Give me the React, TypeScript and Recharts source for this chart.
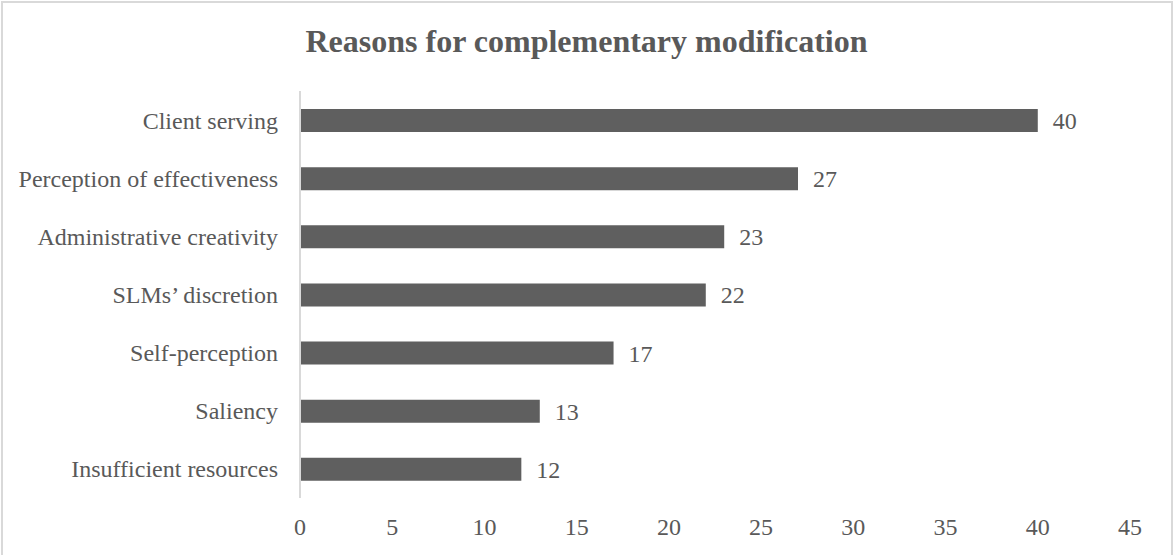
import { Bar, BarChart, LabelList, XAxis, YAxis } from "recharts";

const categories = [
  "Client serving",
  "Perception of effectiveness",
  "Administrative creativity",
  "SLMs’ discretion ",
  "Self-perception",
  "Saliency",
  "Insufficient resources",
];
const counts = [40, 27, 23, 22, 17, 13, 12];
const xTicks = [0, 5, 10, 15, 20, 25, 30, 35, 40, 45];

const data = categories.map((name, i) => ({ name, value: counts[i] }));

const FONT = '"Liberation Serif", "Times New Roman", serif';
const TEXT = "#595959";

export default function App() {
  return (
    <div
      style={{
        position: "absolute",
        left: 0,
        top: 0,
        width: 1173,
        height: 555,
        background: "#fff",
        overflow: "hidden",
      }}
    >
      {/* chart frame, bottom edge falls outside the picture */}
      <div
        style={{
          position: "absolute",
          left: 1,
          top: 1,
          width: 1172,
          height: 570,
          border: "2px solid #d9d9d9",
          boxSizing: "border-box",
        }}
      />
      <div
        style={{
          position: "absolute",
          left: 0,
          top: 25,
          width: 1173,
          textAlign: "center",
          fontFamily: FONT,
          fontWeight: "bold",
          fontSize: 32,
          lineHeight: 1,
          color: TEXT,
        }}
      >
        Reasons for complementary modification
      </div>
      <div style={{ position: "absolute", left: 0, top: 0 }}>
        <BarChart
          width={1173}
          height={555}
          data={data}
          layout="vertical"
          margin={{ top: 91, right: 43, bottom: 0, left: 0 }}
          barCategoryGap={0}
        >
          <XAxis
            type="number"
            domain={[0, 45]}
            ticks={xTicks}
            axisLine={false}
            tickLine={false}
            tickSize={0}
            tickMargin={20}
            height={57}
            interval={0}
            tick={{ fill: TEXT, fontSize: 24, fontFamily: FONT }}
          />
          <YAxis
            type="category"
            dataKey="name"
            width={300}
            axisLine={{ stroke: "#d9d9d9", strokeWidth: 2 }}
            tickLine={false}
            tickSize={0}
            tickMargin={22}
            interval={0}
            tick={{ fill: TEXT, fontSize: 24, fontFamily: FONT }}
          />
          <Bar dataKey="value" fill="#5f5f5f" barSize={23} isAnimationActive={false}>
            <LabelList
              dataKey="value"
              position="right"
              offset={15}
              fill={TEXT}
              style={{ fontSize: 24, fontFamily: FONT }}
            />
          </Bar>
        </BarChart>
      </div>
    </div>
  );
}
